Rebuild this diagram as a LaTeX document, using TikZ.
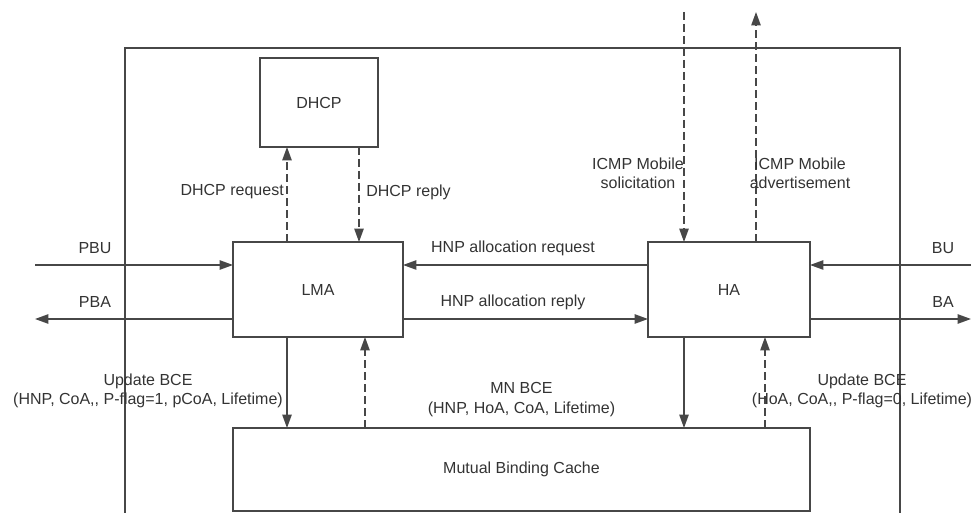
\documentclass[tikz,border=0pt]{standalone}
\usepackage{fontspec}
\setmainfont{Liberation Sans}
\usetikzlibrary{arrows.meta}

\tikzset{
    box/.style={draw=black!72, line width=1.1pt, inner sep=0pt, outer sep=0pt,
        font=\fontsize{12}{14.5}\selectfont, text=black!80},
    lbl/.style={inner sep=0pt, align=center, font=\fontsize{12}{14.5}\selectfont, text=black!80},
    flow/.style={draw=black!72, line width=1.1pt, -{Triangle[length=10pt,width=7pt]}},
    dflow/.style={flow, dash pattern=on 6pt off 3pt},
}

\begin{document}
\begin{tikzpicture}[x=0.75pt, y=-0.75pt]
    \useasboundingbox (0,0) rectangle (972,513);

    \coordinate (PBUIn) at (35,265);
    \coordinate (PBAOut) at (35,319);
    \coordinate (BUIn) at (971,265);
    \coordinate (BAOut) at (971,319);
    \coordinate (SolIn) at (684,12);
    \coordinate (AdvOut) at (756,12);

    \coordinate (LMAX1) at (287,0);
    \coordinate (LMAX2) at (359,0);
    \coordinate (LMAX3) at (365,0);
    \coordinate (HAX1) at (684,0);
    \coordinate (HAX2) at (765,0);

    \draw [black!72, line width=1.1pt] (125,513) -- (125,48) -- (900,48) -- (900,513);

    \node [box, minimum width=88.5pt, minimum height=66.75pt] (DHCP) at (319,102.5) {DHCP};
    \node [box, minimum width=127.5pt, minimum height=71.25pt] (LMA) at (318,289.5) {LMA};
    \node [box, minimum width=121.5pt, minimum height=71.25pt] (HA) at (729,289.5) {HA};
    \node [box, minimum width=432.75pt, minimum height=62.25pt] (MBC) at (521.5,469.5) {Mutual Binding Cache};

    \draw [dflow] (LMA.north -| LMAX1) to (DHCP.south -| LMAX1);
    \draw [dflow] (DHCP.south -| LMAX2) to (LMA.north -| LMAX2);

    \draw [flow] (PBUIn) to (PBUIn -| LMA.west);
    \draw [flow] (LMA.west |- PBAOut) to (PBAOut);
    \draw [flow] (HA.west |- PBUIn) to (LMA.east |- PBUIn);
    \draw [flow] (LMA.east |- PBAOut) to (HA.west |- PBAOut);
    \draw [flow] (BUIn) to (BUIn -| HA.east);
    \draw [flow] (HA.east |- BAOut) to (BAOut);

    \draw [dflow] (SolIn) to (SolIn |- HA.north);
    \draw [dflow] (AdvOut |- HA.north) to (AdvOut);

    \draw [flow] (LMA.south -| LMAX1) to (MBC.north -| LMAX1);
    \draw [dflow] (MBC.north -| LMAX3) to (LMA.south -| LMAX3);
    \draw [flow] (HA.south -| HAX1) to (MBC.north -| HAX1);
    \draw [dflow] (MBC.north -| HAX2) to (HA.south -| HAX2);

    \node [lbl, anchor=east] (DReqLbl) at (284,192) {DHCP request};
    \node [lbl, anchor=west] (DRepLbl) at (366,192) {DHCP reply};
    \node [lbl] (PBULbl) at (95,248) {PBU};
    \node [lbl] (PBALbl) at (95,302) {PBA};
    \node [lbl] (HReqLbl) at (513,248) {HNP allocation request};
    \node [lbl] (HRepLbl) at (513,302) {HNP allocation reply};
    \node [lbl] (BULbl) at (943,248) {BU};
    \node [lbl] (BALbl) at (943,302) {BA};
    \node [lbl] (SolLbl) at (638,173) {ICMP Mobile\\solicitation};
    \node [lbl] (AdvLbl) at (800,173) {ICMP Mobile\\advertisement};
    \node [lbl] (LUpdLbl) at (148,391) {Update BCE\\(HNP, CoA,{},{} P-flag=1, pCoA, Lifetime)};
    \node [lbl] (MNLbl) at (521.5,399.5) {MN BCE\\(HNP, HoA, CoA, Lifetime)};
    \node [lbl] (RUpdLbl) at (862,391) {Update BCE\\(HoA, CoA,{},{} P-flag=0, Lifetime)};
\end{tikzpicture}
\end{document}
